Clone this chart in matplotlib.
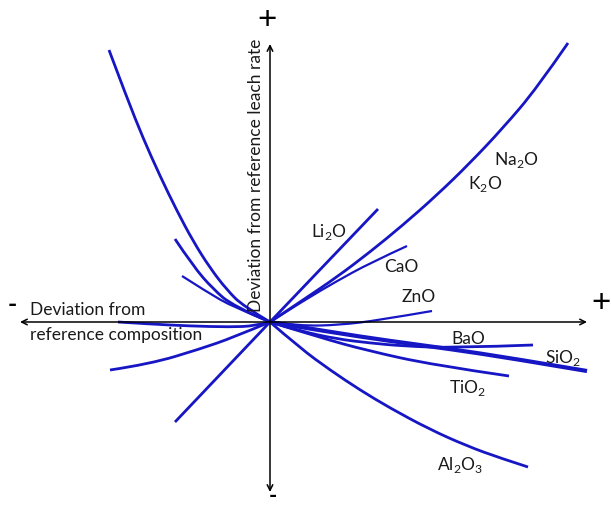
import matplotlib
matplotlib.use('Agg')
import matplotlib.pyplot as plt
from matplotlib.path import Path
from matplotlib.patches import PathPatch

plt.rcParams['font.family'] = ['Lato', 'DejaVu Sans']
plt.rcParams['mathtext.fontset'] = 'custom'
plt.rcParams['mathtext.rm'] = 'Lato'

# right-hand curves (labelled oxides), x = deviation in composition, y = deviation in leach rate
na2o_x = [0, 0.33, 0.67, 1.00, 1.33, 1.67, 2.00, 2.33, 2.67, 2.98]
na2o_y = [0, 0.22, 0.45, 0.70, 0.97, 1.27, 1.59, 1.94, 2.34, 2.79]
li2o_x = [0, 1.08]
li2o_y = [0, 1.13]
cao_x = [0, 0.33, 0.67, 1.00, 1.37]
cao_y = [0, 0.21, 0.41, 0.59, 0.76]
zno_x = [0, 0.30, 0.70, 1.10, 1.62]
zno_y = [0, -0.04, -0.03, 0.02, 0.11]
bao_x = [0, 0.30, 0.67, 1.00, 1.33, 1.83, 2.63]
bao_y = [0, -0.09, -0.17, -0.21, -0.24, -0.26, -0.23]
sio2_x = [0, 0.60, 1.20, 1.80, 2.40, 3.17]
sio2_y = [0, -0.10, -0.19, -0.27, -0.36, -0.49]
tio2_x = [0, 0.50, 0.97, 1.63, 2.39]
tio2_y = [0, -0.155, -0.285, -0.43, -0.54]
al2o3_x = [0, 0.30, 0.60, 0.90, 1.20, 1.59, 1.97, 2.30, 2.58]
al2o3_y = [0, -0.26, -0.48, -0.68, -0.86, -1.07, -1.24, -1.36, -1.45]

# left-hand (negative deviation) curves
left1_x = [-1.61, -1.43, -1.27, -1.10, -0.93, -0.77, -0.60, -0.43, -0.27, 0]
left1_y = [2.72, 2.24, 1.84, 1.46, 1.11, 0.81, 0.54, 0.32, 0.16, 0]
left2_x = [-0.95, -0.77, -0.57, -0.37, 0]
left2_y = [0.83, 0.56, 0.33, 0.16, 0]
left3_x = [-0.88, -0.63, -0.37, 0]
left3_y = [0.46, 0.30, 0.15, 0]
left4_x = [-1.52, -1.20, -0.80, -0.40, -0.15, 0]
left4_y = [0, -0.02, -0.04, -0.05, -0.04, 0]
left5_x = [-1.60, -1.20, -0.70, -0.37, 0]
left5_y = [-0.48, -0.42, -0.27, -0.155, 0]
left6_x = [-0.95, 0]
left6_y = [-1.00, 0]

labels = [r'Na$_\mathregular{2}$O', r'K$_\mathregular{2}$O', r'Li$_\mathregular{2}$O', 'CaO', 'ZnO',
          'BaO', r'SiO$_\mathregular{2}$', r'TiO$_\mathregular{2}$', r'Al$_\mathregular{2}$O$_\mathregular{3}$']
label_x = [2.46, 2.15, 0.59, 1.31, 1.49, 1.98, 2.93, 1.97, 1.90]
label_y = [1.63, 1.39, 0.91, 0.56, 0.26, -0.16, -0.35, -0.65, -1.42]

blue = '#1616c4'


def smooth_curve(ax, xs, ys, lw):
    # quadratic bezier through the midpoints, so the sketched curves stay smooth
    pts = list(zip(xs, ys))
    verts = [pts[0]]
    codes = [Path.MOVETO]
    if len(pts) == 2:
        verts.append(pts[1])
        codes.append(Path.LINETO)
    else:
        for i in range(1, len(pts) - 1):
            if i == len(pts) - 2:
                end = pts[-1]
            else:
                end = ((pts[i][0] + pts[i + 1][0]) / 2, (pts[i][1] + pts[i + 1][1]) / 2)
            verts += [pts[i], end]
            codes += [Path.CURVE3, Path.CURVE3]
    ax.add_patch(PathPatch(Path(verts, codes), fill=False, edgecolor=blue, lw=lw,
                           capstyle='butt'))


fig = plt.figure(figsize=(6.11, 5.06), dpi=100)
ax = fig.add_axes([0, 0, 1, 1])
ax.set_xlim(-2.70, 3.41)
ax.set_ylim(-1.83, 3.23)
ax.axis('off')

# axes drawn as double arrows
ax.annotate('', xy=(3.17, 0), xytext=(-2.50, 0),
            arrowprops=dict(arrowstyle='<->', color='black', lw=1.1, shrinkA=0, shrinkB=0))
ax.annotate('', xy=(0, 2.78), xytext=(0, -1.70),
            arrowprops=dict(arrowstyle='<->', color='black', lw=1.1, shrinkA=0, shrinkB=0))

thick = [(na2o_x, na2o_y), (li2o_x, li2o_y), (bao_x, bao_y), (tio2_x, tio2_y),
         (al2o3_x, al2o3_y), (left1_x, left1_y), (left2_x, left2_y),
         (left5_x, left5_y), (left6_x, left6_y), (left4_x, left4_y)]
thin = [(cao_x, cao_y), (zno_x, zno_y), (left3_x, left3_y)]
for xs, ys in thick:
    smooth_curve(ax, xs, ys, 2.0)
for xs, ys in thin:
    smooth_curve(ax, xs, ys, 1.6)
smooth_curve(ax, sio2_x, sio2_y, 3.0)

for t, x, y in zip(labels, label_x, label_y):
    ax.text(x, y, t, fontsize=12.5, ha='center', va='center', color='#1a1a1a')

ax.text(-0.14, 1.48, 'Deviation from reference leach rate', rotation=90,
        fontsize=12.5, ha='center', va='center', color='#1a1a1a')
ax.text(-2.40, 0.13, 'Deviation from', fontsize=12.5, ha='left', va='center', color='#1a1a1a')
ax.text(-2.40, -0.12, 'reference composition', fontsize=12.5, ha='left', va='center', color='#1a1a1a')

# plus / minus signs at the ends of the arrows
ax.text(-0.03, 3.03, '+', fontsize=24, ha='center', va='center')
ax.text(3.31, 0.20, '+', fontsize=24, ha='center', va='center')
ax.text(-2.58, 0.19, '-', fontsize=18, fontweight='bold', ha='center', va='center')
ax.text(0.03, -1.74, '-', fontsize=16, fontweight='bold', ha='center', va='center')

plt.savefig('out.png', dpi=100)
